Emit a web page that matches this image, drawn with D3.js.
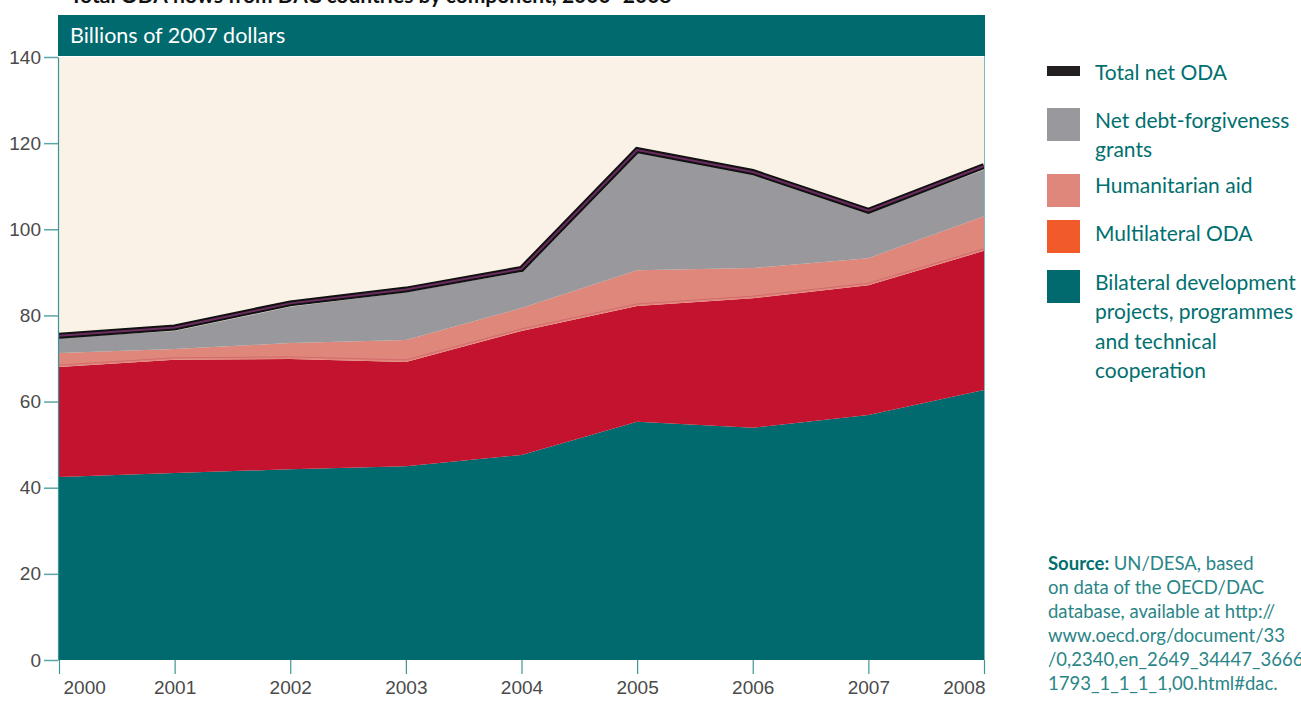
<!DOCTYPE html>
<html>
<head>
<meta charset="utf-8">
<script src="https://cdn.jsdelivr.net/npm/d3@7"></script>
<style>
  body { margin: 0; background: #fff; }
  svg { display: block; }
</style>
</head>
<body>
<script>
var svg_width = 1301;
var svg_height = 702;

// data, billions of 2007 dollars
var years = [2000, 2001, 2002, 2003, 2004, 2005, 2006, 2007, 2008];
var bilateral = [42.5, 43.4, 44.3, 45.0, 47.6, 55.3, 53.9, 56.9, 62.7];
var multilateral = [25.5, 26.3, 25.6, 24.2, 28.8, 26.9, 30.1, 30.1, 32.3];
var humanitarian = [3.3, 2.5, 3.7, 5.1, 5.3, 8.3, 7.0, 6.3, 8.0];
var debtRelief = [3.5, 4.2, 8.4, 11.1, 8.4, 27.5, 21.8, 10.5, 10.8];
var totalOda = [75.3, 77.2, 82.8, 86.0, 90.8, 118.4, 113.3, 104.3, 114.7];
var yTicks = [0, 20, 40, 60, 80, 100, 120, 140];

var keys = ['bilateral', 'multilateral', 'humanitarian', 'debt'];
var colors = {bilateral: '#006a6e', multilateral: '#c3132f', humanitarian: '#df877a', debt: '#98989d'};

var table = years.map(function(yr, i) {
  return {year: yr, bilateral: bilateral[i], multilateral: multilateral[i],
          humanitarian: humanitarian[i], debt: debtRelief[i], total: totalOda[i]};
});

var svg = d3.select('body').append('svg')
            .attr('width', svg_width)
            .attr('height', svg_height);

var xscale = d3.scaleLinear().domain([2000, 2008]).range([59, 984]);
var yscale = d3.scaleLinear().domain([0, 140]).range([660, 57]);

// title (runs off the top edge, as in the original)
svg.append('text')
    .attr('x', 70).attr('y', 3)
    .attr('font-family', 'Lato, sans-serif').attr('font-weight', 'bold')
    .attr('font-size', 21).attr('fill', '#111')
    .text('Total ODA flows from DAC countries by component, 2000\u20132008');

// header band
svg.append('rect')
    .attr('x', 58).attr('y', 15).attr('width', 927).attr('height', 41)
    .attr('fill', '#006a6e');
svg.append('text')
    .attr('x', 70).attr('y', 43)
    .attr('font-family', 'Lato, sans-serif').attr('font-size', 21.5)
    .attr('fill', '#fff')
    .text('Billions of 2007 dollars');

// plot background
svg.append('rect')
    .attr('x', xscale(2000)).attr('y', yscale(140))
    .attr('width', xscale(2008) - xscale(2000)).attr('height', yscale(0) - yscale(140))
    .attr('fill', '#faf2e6');

var series = d3.stack().keys(keys)(table);
var area = d3.area()
    .x(function(d) { return xscale(d.data.year); })
    .y0(function(d) { return yscale(d[0]); })
    .y1(function(d) { return yscale(d[1]); });

svg.selectAll('path.layer')
    .data(series)
    .enter().append('path')
    .attr('class', 'layer')
    .attr('d', area)
    .attr('fill', function(d) { return colors[d.key]; });

// faint line just above multilateral band
var redTop = d3.line()
    .x(function(d) { return xscale(d.data.year); })
    .y(function(d) { return yscale(d[1]) - 2; });
svg.append('path')
    .attr('d', redTop(series[1]))
    .attr('fill', 'none').attr('stroke', '#d46a6c').attr('stroke-width', 1);

// total net ODA line
var totalLine = d3.line()
    .x(function(d) { return xscale(d.year); })
    .y(function(d) { return yscale(d.total); });
svg.append('path')
    .attr('d', totalLine(table))
    .attr('fill', 'none').attr('stroke', '#111').attr('stroke-width', 6)
    .attr('stroke-linejoin', 'miter');
svg.append('path')
    .attr('d', totalLine(table))
    .attr('fill', 'none').attr('stroke', '#6b2c60').attr('stroke-width', 2)
    .attr('stroke-linejoin', 'miter');

// right edge line
svg.append('line')
    .attr('x1', 984.5).attr('x2', 984.5).attr('y1', 56).attr('y2', 660)
    .attr('stroke', '#7fb8ba').attr('stroke-width', 1);

// axes
var yaxis = d3.axisLeft(yscale).tickValues(yTicks).tickSize(14).tickSizeOuter(0).tickPadding(3);
var gy = svg.append('g')
    .attr('transform', 'translate(58, 0)')
    .call(yaxis);
gy.select('.domain').attr('stroke', '#3f9496').attr('stroke-width', 1.2);
gy.selectAll('.tick line').attr('stroke', '#5aa5a7').attr('stroke-width', 1.5);
gy.selectAll('.tick text')
    .attr('font-family', '"Liberation Sans Narrow", "Liberation Sans", sans-serif')
    .attr('font-size', 19).attr('fill', '#4a4a4a');

var xaxis = d3.axisBottom(xscale).tickValues(years).tickFormat(d3.format('d'))
    .tickSize(14).tickSizeOuter(0).tickPadding(7);
var gx = svg.append('g')
    .attr('transform', 'translate(0, 660)')
    .call(xaxis);
gx.select('.domain').remove();
gx.selectAll('.tick line').attr('stroke', '#3f9496').attr('stroke-width', 1.2);
gx.selectAll('.tick text')
    .attr('font-family', '"Liberation Sans Narrow", "Liberation Sans", sans-serif')
    .attr('font-size', 19).attr('fill', '#4a4a4a')
    .attr('text-anchor', function(d) { return d === 2000 ? 'start' : (d === 2008 ? 'end' : 'middle'); })
    .attr('dx', function(d) { return d === 2000 ? 4 : (d === 2008 ? 1 : 0); });

// legend
var legendItems = [
  {label: ['Total net ODA'], color: '#231f20', y: 66, h: 10},
  {label: ['Net debt-forgiveness', 'grants'], color: '#98989d', y: 108, h: 33},
  {label: ['Humanitarian aid'], color: '#df877a', y: 174, h: 33},
  {label: ['Multilateral ODA'], color: '#f15a29', y: 220, h: 33},
  {label: ['Bilateral development', 'projects, programmes', 'and technical', 'cooperation'], color: '#006a6e', y: 270, h: 33}
];
var textY = [80, 128, 193, 241, 290];
var lg = svg.append('g');
legendItems.forEach(function(item, i) {
  lg.append('rect')
      .attr('x', 1047).attr('y', item.y).attr('width', 33).attr('height', item.h)
      .attr('fill', item.color);
  var t = lg.append('text')
      .attr('x', 1095).attr('y', textY[i])
      .attr('font-family', 'Lato, sans-serif').attr('font-size', 21)
      .attr('fill', '#00706f');
  item.label.forEach(function(line, j) {
    t.append('tspan').attr('x', 1095).attr('dy', j === 0 ? 0 : 29.3).text(line);
  });
});

// source note
var sourceLines = ['UN/DESA, based', 'on data of the OECD/DAC', 'database, available at http://',
  'www.oecd.org/document/33', '/0,2340,en_2649_34447_3666', '1793_1_1_1_1,00.html#dac.'];
var src = svg.append('text')
    .attr('x', 1048).attr('y', 570)
    .attr('font-family', 'Lato, sans-serif').attr('font-size', 18.5)
    .attr('fill', '#2a8587');
src.append('tspan').attr('font-weight', 'bold').attr('fill', '#00706f').text('Source: ');
src.append('tspan').text(sourceLines[0]);
sourceLines.slice(1).forEach(function(line) {
  src.append('tspan').attr('x', 1048).attr('dy', 24).text(line);
});
</script>
</body>
</html>
